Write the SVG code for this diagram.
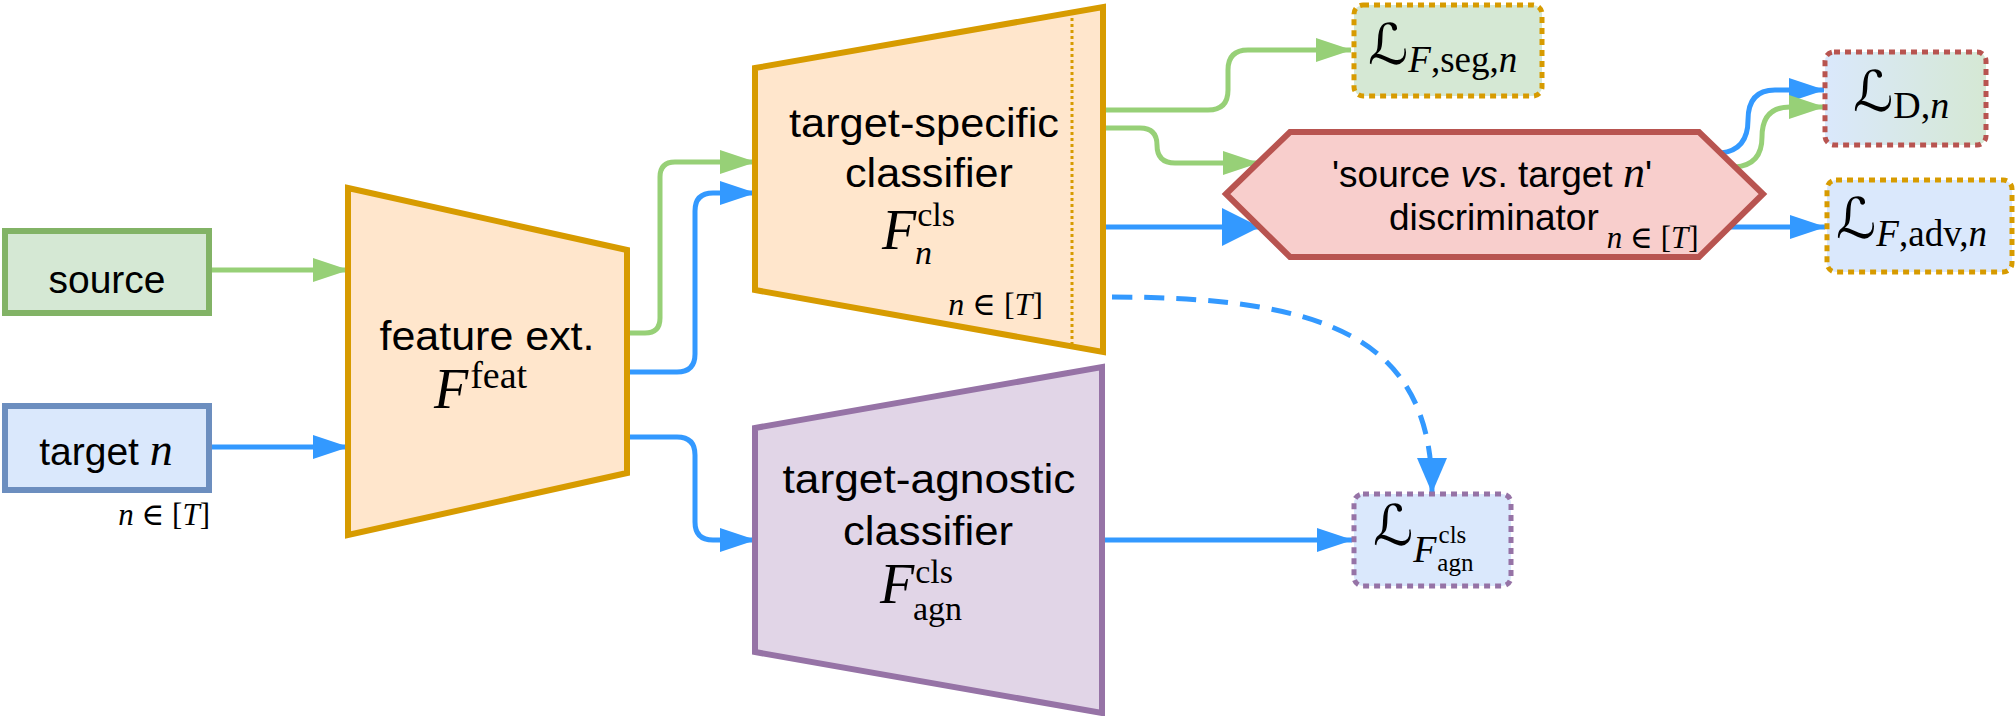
<svg xmlns="http://www.w3.org/2000/svg" width="2016" height="716" viewBox="0 0 2016 716">
<style>
.sans{font-family:"Liberation Sans",Arial,sans-serif;fill:#000}
.math{font-family:"Liberation Serif","DejaVu Serif",serif;fill:#000}
.it{font-style:italic}
.cal{font-family:"DejaVu Serif","DejaVu Sans",serif;font-style:normal}
.cg{fill:none;stroke:#97d077;stroke-width:5}
.cb{fill:none;stroke:#3399ff;stroke-width:5}
.lossbox{stroke-width:5;stroke-dasharray:6 5}
</style>
<defs>
<linearGradient id="gD" x1="0" y1="0" x2="1" y2="0"><stop offset="0" stop-color="#dae8fc"/><stop offset="1" stop-color="#d5e8d4"/></linearGradient>
<marker id="mg" markerUnits="userSpaceOnUse" markerWidth="36" markerHeight="24" refX="35" refY="12" orient="auto"><path d="M0,0 L36,12 L0,24 Z" fill="#97d077"/></marker>
<marker id="mb" markerUnits="userSpaceOnUse" markerWidth="36" markerHeight="24" refX="35" refY="12" orient="auto"><path d="M0,0 L36,12 L0,24 Z" fill="#3399ff"/></marker>
<marker id="mbL" markerUnits="userSpaceOnUse" markerWidth="38" markerHeight="38" refX="37" refY="19" orient="auto"><path d="M0,0 L38,19 L0,38 Z" fill="#3399ff"/></marker>
<marker id="mbd" markerUnits="userSpaceOnUse" markerWidth="35" markerHeight="30" refX="34" refY="15" orient="auto"><path d="M0,0 L35,15 L0,30 Z" fill="#3399ff"/></marker>
</defs>
<rect width="2016" height="716" fill="#ffffff"/>

<g id="connectors">
<path class="cg" d="M212,270 H348" marker-end="url(#mg)"/>
<path class="cb" d="M212,447 H348" marker-end="url(#mb)"/>
<path class="cg" d="M627,333 H645 Q660,333 660,318 V177 Q660,162 675,162 H755" marker-end="url(#mg)"/>
<path class="cb" d="M627,372 H677 Q695,372 695,354 V211 Q695,193 713,193 H755" marker-end="url(#mb)"/>
<path class="cb" d="M627,437 H677 Q695,437 695,455 V522 Q695,540 713,540 H755" marker-end="url(#mb)"/>
<path class="cg" d="M1103,110 H1208 Q1228,110 1228,90 V70 Q1228,50 1248,50 H1351" marker-end="url(#mg)"/>
<path class="cg" d="M1072,128 H1140 Q1157,128 1157,145 Q1157,163 1175,163 H1258" marker-end="url(#mg)"/>
<path class="cb" d="M1072,227 H1259" marker-end="url(#mbL)"/>
<path class="cb" d="M1729,227 H1825" marker-end="url(#mb)"/>
<path class="cb" d="M1721,153 Q1748,150 1748,120 Q1748,90 1775,90 H1824" marker-end="url(#mb)"/>
<path class="cg" d="M1735,167 Q1762,165 1762,137 Q1762,107 1790,107 H1824" marker-end="url(#mg)"/>
<path class="cb" d="M1102,540 H1352" marker-end="url(#mb)"/>
<path class="cb" d="M1112,297 C1330,297 1432,340 1432,492" stroke-dasharray="20 12" marker-end="url(#mbd)"/>
</g>

<g id="source">
<rect x="5" y="231" width="204" height="82" fill="#d5e8d4" stroke="#82b366" stroke-width="6"/>
<text class="sans" x="107" y="293" font-size="39" text-anchor="middle">source</text>
</g>

<g id="target">
<rect x="5" y="406" width="204" height="84" fill="#dae8fc" stroke="#6c8ebf" stroke-width="6"/>
<text class="sans" x="106" y="465" font-size="39" text-anchor="middle">target <tspan class="math it" font-size="46">n</tspan></text>
<text class="math" x="210" y="525" font-size="31" text-anchor="end"><tspan class="it">n</tspan> ∈ [<tspan class="it">T</tspan>]</text>
</g>

<g id="feature-extractor">
<polygon points="348,188 627,250 627,473 348,535" fill="#ffe6cc" stroke="#d79b00" stroke-width="6"/>
<text class="sans" x="487" y="350" font-size="40" text-anchor="middle" textLength="215" lengthAdjust="spacingAndGlyphs">feature ext.</text>
<text class="math" x="434" y="408"><tspan class="it" font-size="56">F</tspan><tspan font-size="38" dx="2" dy="-20">feat</tspan></text>
</g>

<g id="target-specific-classifier">
<polygon points="755,68 1103,7 1103,352 755,290" fill="#ffe6cc" stroke="#d79b00" stroke-width="6"/>
<line x1="1072" y1="18" x2="1072" y2="344" stroke="#d79b00" stroke-width="3" stroke-dasharray="3 3"/>
<text class="sans" x="924" y="137" font-size="40" text-anchor="middle" textLength="270" lengthAdjust="spacingAndGlyphs">target-specific</text>
<text class="sans" x="929" y="187" font-size="40" text-anchor="middle" textLength="168" lengthAdjust="spacingAndGlyphs">classifier</text>
<text class="math" x="882" y="249"><tspan class="it" font-size="56">F</tspan><tspan font-size="34" dx="1" dy="-23">cls</tspan><tspan class="it" font-size="34" dx="-40" dy="38">n</tspan></text>
<text class="math" x="1043" y="315" font-size="32" text-anchor="end"><tspan class="it">n</tspan> ∈ [<tspan class="it">T</tspan>]</text>
</g>

<g id="target-agnostic-classifier">
<polygon points="755,428 1102,367 1102,713 755,652" fill="#e1d5e7" stroke="#9673a6" stroke-width="6"/>
<text class="sans" x="929" y="493" font-size="40" text-anchor="middle" textLength="293" lengthAdjust="spacingAndGlyphs">target-agnostic</text>
<text class="sans" x="928" y="545" font-size="40" text-anchor="middle" textLength="170" lengthAdjust="spacingAndGlyphs">classifier</text>
<text class="math" x="880" y="603"><tspan class="it" font-size="56">F</tspan><tspan font-size="34" dx="1" dy="-20">cls</tspan><tspan font-size="34" dx="-40" dy="37">agn</tspan></text>
</g>

<g id="discriminator">
<polygon points="1226,194 1290,132 1699,132 1763,194 1699,257 1290,257" fill="#f8cecc" stroke="#b85450" stroke-width="6"/>
<text class="sans" x="1492" y="187" font-size="37" text-anchor="middle">'source <tspan font-style="italic">vs</tspan>. target <tspan class="math it" font-size="44">n</tspan>'</text>
<text class="sans" x="1389" y="230" font-size="37">discriminator<tspan class="math" font-size="31" dx="8" dy="18"><tspan class="it">n</tspan> ∈ [<tspan class="it">T</tspan>]</tspan></text>
</g>

<g id="loss-seg">
<rect x="1354" y="5" width="188" height="91" rx="9" fill="#d5e8d4" stroke="#d79b00" class="lossbox"/>
<text class="math" x="1368" y="64"><tspan class="cal" font-size="56">ℒ</tspan><tspan font-size="37" dy="8"><tspan class="it">F</tspan>,seg,<tspan class="it">n</tspan></tspan></text>
</g>

<g id="loss-D">
<rect x="1825" y="52" width="161" height="93" rx="9" fill="url(#gD)" stroke="#b85450" class="lossbox"/>
<text class="math" x="1853" y="111"><tspan class="cal" font-size="56">ℒ</tspan><tspan font-size="38" dy="7">D,<tspan class="it">n</tspan></tspan></text>
</g>

<g id="loss-adv">
<rect x="1827" y="180" width="185" height="92" rx="9" fill="#dae8fc" stroke="#d79b00" class="lossbox"/>
<text class="math" x="1836" y="238"><tspan class="cal" font-size="56">ℒ</tspan><tspan font-size="37" dy="8"><tspan class="it">F</tspan>,adv,<tspan class="it">n</tspan></tspan></text>
</g>

<g id="loss-agn">
<rect x="1354" y="494" width="157" height="92" rx="9" fill="#dae8fc" stroke="#9673a6" class="lossbox"/>
<text class="math" x="1373" y="545"><tspan class="cal" font-size="56">ℒ</tspan><tspan class="it" font-size="38" dy="17">F</tspan><tspan font-size="25" dx="2" dy="-19">cls</tspan><tspan font-size="25" dx="-29" dy="28">agn</tspan></text>
</g>
</svg>
